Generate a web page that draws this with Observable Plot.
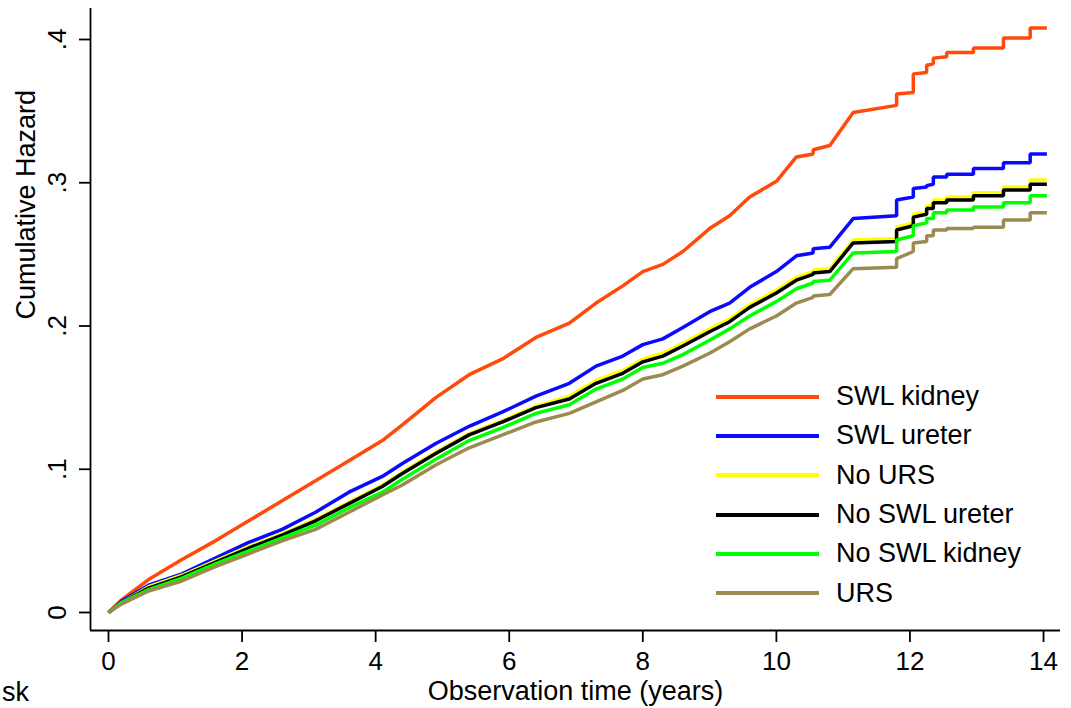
<!DOCTYPE html>
<html>
<head>
<meta charset="utf-8">
<script src="https://cdn.jsdelivr.net/npm/d3@7"></script>
<script src="https://cdn.jsdelivr.net/npm/@observablehq/plot@0.6"></script>
<style>
  html, body { margin: 0; padding: 0; background: #fff; width: 1071px; height: 708px; overflow: hidden; }
  #wrap { position: relative; width: 1071px; height: 708px; font-family: "Liberation Sans", Arial, sans-serif; }
  #legend { position: absolute; left: 716px; top: 377px; }
  .row { display: flex; align-items: center; height: 39.3px; }
  .swatch { width: 103px; height: 4px; margin-right: 17px; }
  .lab { font-size: 27px; line-height: 1; color: #000; white-space: nowrap; }
  #sk { position: absolute; left: 2px; top: 679px; font-size: 27px; line-height: 1; color: #000; }
</style>
</head>
<body>
<div id="wrap"></div>
<script>
// ---- data ----
const years = [0, 0.2, 0.6, 1.1, 1.6, 2.1, 2.6, 3.1, 3.6, 4.1,
  4.4, 4.9, 5.4, 5.9, 6.4, 6.9, 7.3, 7.7, 8.0, 8.3,
  8.6, 9.0, 9.3, 9.6, 10.0, 10.3, 10.55, 10.55, 10.8, 11.15,
  11.8, 11.8, 12.05, 12.05, 12.25, 12.25, 12.35, 12.35, 12.55, 12.55,
  12.95, 12.95, 13.4, 13.4, 13.8, 13.8, 14.05];

const swlKidney = [0, 0.009, 0.023, 0.037, 0.050, 0.064, 0.078, 0.092, 0.106, 0.120,
  0.131, 0.150, 0.166, 0.177, 0.192, 0.202, 0.216, 0.228, 0.238, 0.243,
  0.252, 0.268, 0.277, 0.290, 0.301, 0.318, 0.320, 0.323, 0.326, 0.349,
  0.354, 0.362, 0.363, 0.376, 0.377, 0.382, 0.383, 0.387, 0.388, 0.391,
  0.391, 0.394, 0.394, 0.401, 0.401, 0.408, 0.408];

const swlUreter = [0, 0.008, 0.019, 0.027, 0.038, 0.049, 0.058, 0.070, 0.084, 0.095,
  0.104, 0.118, 0.130, 0.140, 0.151, 0.160, 0.172, 0.179, 0.187, 0.191,
  0.199, 0.210, 0.216, 0.227, 0.238, 0.249, 0.251, 0.254, 0.255, 0.275,
  0.277, 0.288, 0.290, 0.296, 0.297, 0.298, 0.299, 0.304, 0.304, 0.306,
  0.306, 0.310, 0.310, 0.314, 0.314, 0.320, 0.320];

const noURS = [0, 0.007, 0.018, 0.026, 0.036, 0.046, 0.055, 0.065, 0.077, 0.089,
  0.098, 0.112, 0.125, 0.134, 0.144, 0.151, 0.162, 0.169, 0.177, 0.181,
  0.188, 0.198, 0.205, 0.215, 0.225, 0.234, 0.238, 0.239, 0.240, 0.260,
  0.261, 0.269, 0.272, 0.278, 0.280, 0.284, 0.284, 0.288, 0.288, 0.290,
  0.290, 0.293, 0.293, 0.297, 0.297, 0.302, 0.302];

const noSwlUreter = [0, 0.007, 0.017, 0.025, 0.035, 0.045, 0.054, 0.064, 0.076, 0.088,
  0.097, 0.111, 0.124, 0.133, 0.143, 0.149, 0.160, 0.167, 0.175, 0.179,
  0.186, 0.196, 0.203, 0.213, 0.223, 0.232, 0.236, 0.237, 0.238, 0.258,
  0.259, 0.267, 0.270, 0.276, 0.278, 0.282, 0.282, 0.286, 0.286, 0.288,
  0.288, 0.291, 0.291, 0.295, 0.295, 0.299, 0.299];

const noSwlKidney = [0, 0.007, 0.016, 0.024, 0.034, 0.043, 0.052, 0.061, 0.073, 0.084,
  0.093, 0.107, 0.120, 0.129, 0.139, 0.145, 0.156, 0.163, 0.171, 0.174,
  0.180, 0.190, 0.198, 0.207, 0.217, 0.226, 0.230, 0.231, 0.232, 0.251,
  0.252, 0.260, 0.263, 0.270, 0.272, 0.275, 0.275, 0.279, 0.279, 0.281,
  0.281, 0.283, 0.283, 0.286, 0.286, 0.291, 0.291];

const urs = [0, 0.006, 0.015, 0.022, 0.032, 0.041, 0.050, 0.058, 0.070, 0.082,
  0.089, 0.103, 0.115, 0.124, 0.133, 0.139, 0.147, 0.155, 0.163, 0.166,
  0.172, 0.181, 0.189, 0.198, 0.207, 0.216, 0.220, 0.221, 0.222, 0.240,
  0.241, 0.247, 0.252, 0.258, 0.259, 0.263, 0.263, 0.267, 0.267, 0.268,
  0.268, 0.269, 0.269, 0.274, 0.274, 0.279, 0.279];

const seriesNames = ["SWL kidney", "SWL ureter", "No URS", "No SWL ureter", "No SWL kidney", "URS"];
const seriesValues = [swlKidney, swlUreter, noURS, noSwlUreter, noSwlKidney, urs];
const seriesColors = ["#ff4a0a", "#0a0aff", "#ffff00", "#000000", "#00ff00", "#9c8a50"];

const xTicks = [0, 2, 4, 6, 8, 10, 12, 14];
const yTicks = [0, 0.1, 0.2, 0.3, 0.4];
const yTickLabels = ["0", ".1", ".2", ".3", ".4"];
const xTitle = "Observation time (years)";
const yTitle = "Cumulative Hazard";

// ---- build table ----
const rows = [];
seriesNames.forEach((name, i) => {
  years.forEach((t, j) => rows.push({series: name, t, v: seriesValues[i][j]}));
});

const xDomain = [-0.2695, 14.254];
const yDomain = [-0.01257, 0.42164];

const chart = Plot.plot({
  width: 1071,
  height: 708,
  marginLeft: 90,
  marginRight: 11,
  marginTop: 8,
  marginBottom: 78,
  style: {fontFamily: "'Liberation Sans', Arial, sans-serif", fontSize: "26px", color: "#000", background: "#fff"},
  x: {domain: xDomain},
  y: {domain: yDomain},
  color: {domain: seriesNames, range: seriesColors},
  marks: [
    Plot.line(rows, {x: "t", y: "v", z: "series", stroke: "series", strokeWidth: 3.5, strokeLinejoin: "miter", strokeLinecap: "butt"}),
    Plot.ruleX([xDomain[0]], {stroke: "#000", strokeWidth: 1.8}),
    Plot.ruleY([yDomain[0]], {stroke: "#000", strokeWidth: 1.8}),
    Plot.axisX({ticks: xTicks, tickSize: 12, tickPadding: 9, strokeWidth: 1.8, label: null, fontSize: 26}),
    Plot.axisY({ticks: yTicks, tickSize: 11, tickPadding: 14, tickRotate: -90, strokeWidth: 1.8,
      tickFormat: (d) => yTickLabels[yTicks.indexOf(d)], label: null, fontSize: 26}),
    Plot.text([xTitle], {frameAnchor: "bottom", dy: 69, lineAnchor: "bottom", fontSize: 27, fill: "#000"}),
    Plot.text([yTitle], {frameAnchor: "left", dx: -56, rotate: -90, lineAnchor: "bottom", fontSize: 27, fill: "#000"})
  ]
});

const wrap = document.getElementById("wrap");
wrap.appendChild(chart);

// legend (HTML overlay inside plot area)
const legend = document.createElement("div");
legend.id = "legend";
seriesNames.forEach((name, i) => {
  const row = document.createElement("div");
  row.className = "row";
  const sw = document.createElement("div");
  sw.className = "swatch";
  sw.style.background = seriesColors[i];
  const lab = document.createElement("span");
  lab.className = "lab";
  lab.textContent = name;
  row.appendChild(sw);
  row.appendChild(lab);
  legend.appendChild(row);
});
wrap.appendChild(legend);

const sk = document.createElement("div");
sk.id = "sk";
sk.textContent = "sk";
wrap.appendChild(sk);
</script>
</body>
</html>
